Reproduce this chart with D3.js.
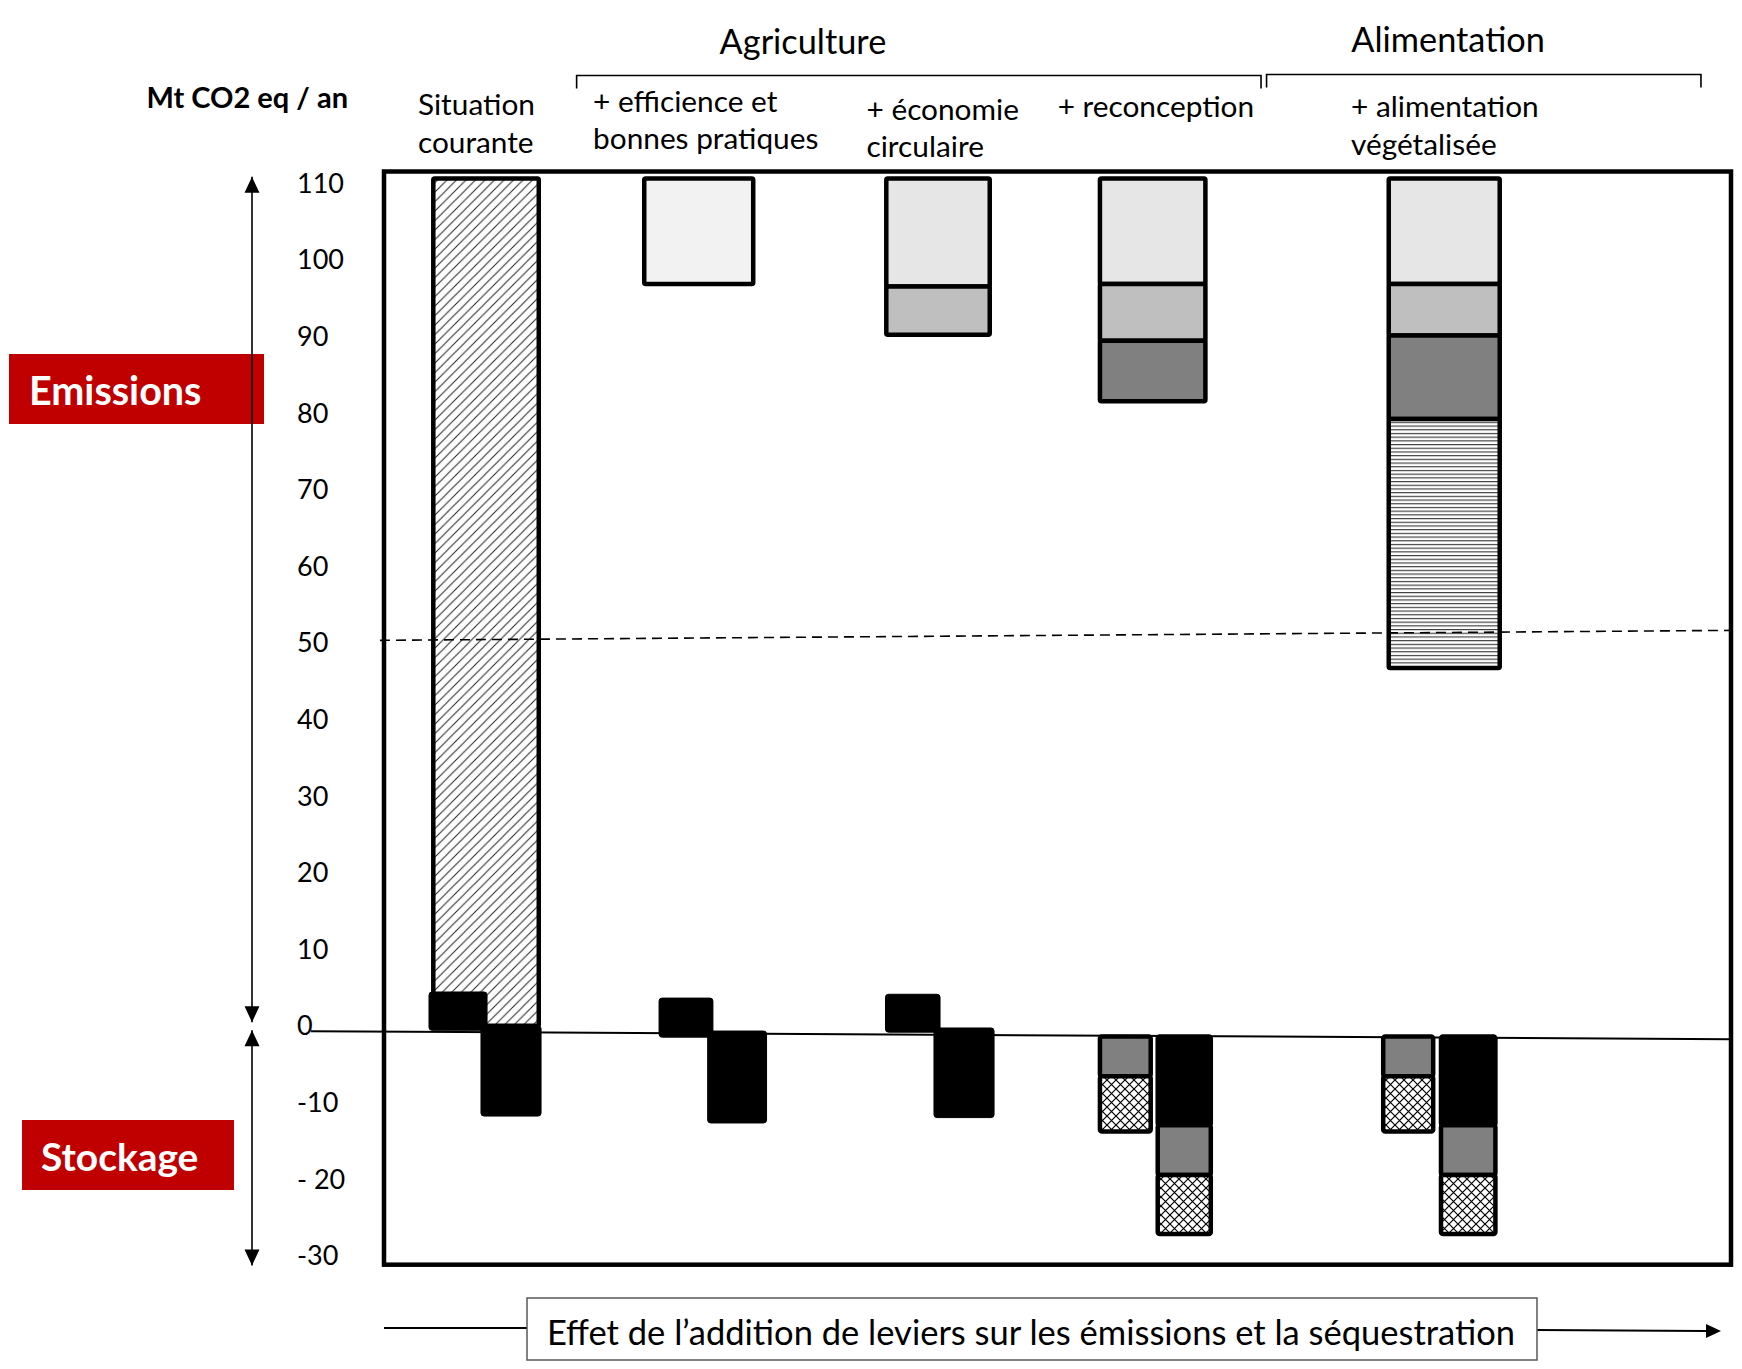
<!DOCTYPE html>
<html>
<head>
<meta charset="utf-8">
<script src="https://cdn.jsdelivr.net/npm/d3@7"></script>
<style>
body { margin: 0; background: #fff; }
svg { display: block; font-family: Lato, "Open Sans", sans-serif; }
</style>
</head>
<body>
<svg id="chart" width="1742" height="1369"></svg>
<script>
// --- données (Mt CO2 eq / an) ---
var columnLabels = [
	["Situation", "courante"],
	["+ efficience et", "bonnes pratiques"],
	["+ économie", "circulaire"],
	["+ reconception"],
	["+ alimentation", "végétalisée"]
];
var groupNames = ["Agriculture", "Alimentation"];

var emissionSeries = ["situation", "efficience", "circulaire", "reconception", "vegetal"];
// niveaux de haut en bas pour chaque colonne
var emissionLevels = [
	[110.6, 0],
	[110.6, 96.8],
	[110.6, 96.5, 90.2],
	[110.6, 96.8, 89.4, 81.5],
	[110.6, 96.8, 90.1, 79.2, 46.7]
];

var storageSeries = ["noir", "sols", "haies"];
var storageLeft = [[4.4, -0.6], [3.6, -1.5], [4.1, -0.85], [-1.4, -6.6, -13.8], [-1.4, -6.6, -13.8]];
var storageLeftKeys = [["noir"], ["noir"], ["noir"], ["sols", "haies"], ["sols", "haies"]];
var storageRight = [[0, -11.8], [-0.7, -12.7], [-0.3, -12.0], [-1.4, -13.0, -19.5, -27.2], [-1.4, -13.0, -19.5, -27.2]];
var storageRightKeys = [["noir"], ["noir"], ["noir"], ["noir", "sols", "haies"], ["noir", "sols", "haies"]];

var tickValues = [110, 100, 90, 80, 70, 60, 50, 40, 30, 20, 10, 0, -10, -20, -30];
var tickLabels = ["110", "100", "90", "80", "70", "60", "50", "40", "30", "20", "10", "0", "-10", "- 20", "-30"];

var zeroLine = [-0.72, -1.76];
var targetLine = [50.3, 51.6];

// --- mise en page (en % de la largeur du cadre) ---
var layout = [
	{emit: [3.66, 11.49], left: [3.34, 7.65], right: [7.20, 11.66], lx: 2.52, ly: 104.5},
	{emit: [19.32, 27.41], left: [20.42, 24.42], right: [24.03, 28.40], lx: 15.52, ly: 101},
	{emit: [37.29, 44.97], left: [37.23, 41.28], right: [40.83, 45.29], lx: 35.82, ly: 109},
	{emit: [53.15, 60.98], left: [53.15, 56.92], right: [57.44, 61.38], lx: 50.01, ly: 106.7},
	{emit: [74.59, 82.83], left: [74.18, 77.89], right: [78.47, 82.51], lx: 71.79, ly: 106.7}
];

var svg = d3.select("#chart");

var x = d3.scaleLinear().domain([0, 100]).range([384, 1731]);
var y = d3.scaleLinear().domain([-30, 110]).range([1255.5, 183]);

var fills = {
	efficience: "#e6e6e6",
	circulaire: "#bfbfbf",
	reconception: "#808080",
	situation: "url(#diag)",
	vegetal: "url(#horiz)",
	noir: "#000",
	sols: "#808080",
	haies: "url(#cross)"
};

// motifs
var defs = svg.append("defs");
var dp = defs.append("pattern").attr("id", "diag").attr("patternUnits", "userSpaceOnUse")
	.attr("width", 9.5).attr("height", 9.5);
dp.append("rect").attr("width", 9.5).attr("height", 9.5).attr("fill", "#fff");
dp.append("path").attr("d", "M-2,2 l4,-4 M0,9.5 l9.5,-9.5 M7.5,11.5 l4,-4")
	.attr("stroke", "#222").attr("stroke-width", 1);
var hp = defs.append("pattern").attr("id", "horiz").attr("patternUnits", "userSpaceOnUse")
	.attr("width", 8).attr("height", 3.7);
hp.append("rect").attr("width", 8).attr("height", 3.7).attr("fill", "#fff");
hp.append("line").attr("x1", 0).attr("x2", 8).attr("y1", 0.6).attr("y2", 0.6)
	.attr("stroke", "#333").attr("stroke-width", 1.1);
var cp = defs.append("pattern").attr("id", "cross").attr("patternUnits", "userSpaceOnUse")
	.attr("width", 9).attr("height", 9);
cp.append("rect").attr("width", 9).attr("height", 9).attr("fill", "#fff");
cp.append("path").attr("d", "M0,0 L9,9 M9,0 L0,9")
	.attr("stroke", "#000").attr("stroke-width", 1.2);

// cadre
svg.append("rect")
	.attr("x", x(0)).attr("y", y(111.5))
	.attr("width", x(100) - x(0)).attr("height", y(-31.2) - y(111.5))
	.attr("fill", "none").attr("stroke", "#000").attr("stroke-width", 4.5);

// ligne zéro
svg.append("line")
	.attr("x1", x(-5.42)).attr("x2", x(100))
	.attr("y1", y(zeroLine[0])).attr("y2", y(zeroLine[1]))
	.attr("stroke", "#000").attr("stroke-width", 2);

// segments d'émission
var segs = [];
emissionLevels.forEach(function(lv, c) {
	for (var i = 0; i < lv.length - 1; i++) {
		segs.push({col: c, key: c === 0 ? "situation" : emissionSeries[i + 1], top: lv[i], bottom: lv[i + 1]});
	}
});

svg.append("g").selectAll("rect")
	.data(segs)
	.enter().append("rect")
	.attr("x", d => x(layout[d.col].emit[0]))
	.attr("width", d => x(layout[d.col].emit[1]) - x(layout[d.col].emit[0]))
	.attr("y", d => y(d.top))
	.attr("height", d => y(d.bottom) - y(d.top))
	.attr("rx", 1.5)
	.attr("fill", d => (d.col === 1 ? "#f2f2f2" : fills[d.key]))
	.attr("stroke", "#000")
	.attr("stroke-width", 4.5);

// stockage
var store = [];
function addStore(levels, keys, side) {
	levels.forEach(function(lv, c) {
		for (var i = 0; i < lv.length - 1; i++) {
			store.push({col: c, side: side, key: keys[c][i], top: lv[i], bottom: lv[i + 1]});
		}
	});
}
addStore(storageLeft, storageLeftKeys, "left");
addStore(storageRight, storageRightKeys, "right");

svg.append("g").selectAll("rect")
	.data(store)
	.enter().append("rect")
	.attr("x", d => x(layout[d.col][d.side][0]))
	.attr("width", d => x(layout[d.col][d.side][1]) - x(layout[d.col][d.side][0]))
	.attr("y", d => y(d.top))
	.attr("height", d => y(d.bottom) - y(d.top))
	.attr("rx", d => (d.col < 3 ? 3 : 2))
	.attr("fill", d => fills[d.key])
	.attr("stroke", "#000")
	.attr("stroke-width", d => (d.col < 3 ? 1 : 4.5));

// ligne pointillée
svg.append("line")
	.attr("x1", x(-0.3)).attr("x2", x(100))
	.attr("y1", y(targetLine[0])).attr("y2", y(targetLine[1]))
	.attr("stroke", "#000").attr("stroke-width", 1.6)
	.attr("stroke-dasharray", "10,6");

// graduations
svg.append("g").selectAll("text")
	.data(tickValues)
	.enter().append("text")
	.attr("x", 297)
	.attr("y", d => y(d))
	.attr("dy", "0.36em")
	.style("font-size", "27px")
	.text((d, i) => tickLabels[i]);

svg.append("text")
	.attr("x", 348).attr("y", 98).attr("dy", "0.36em")
	.attr("text-anchor", "end")
	.style("font-size", "29px").style("font-weight", "bold")
	.text("Mt CO2 eq / an");

// en-têtes de colonnes
columnLabels.forEach(function(lines, c) {
	var t = svg.append("text")
		.attr("x", x(layout[c].lx))
		.attr("y", layout[c].ly)
		.style("font-size", "29.8px");
	lines.forEach(function(l, i) {
		t.append("tspan").attr("x", x(layout[c].lx)).attr("y", layout[c].ly + i * 37.5)
			.attr("dy", "0.36em").text(l);
	});
});

// accolades de groupes
var groups = [
	{name: groupNames[0], x0: 14.30, x1: 65.11, cx: 31.1, ty: 42, by: 75.5},
	{name: groupNames[1], x0: 65.52, x1: 97.77, cx: 79.0, ty: 40, by: 74.5}
];
groups.forEach(function(g) {
	svg.append("path")
		.attr("d", "M" + x(g.x0) + "," + (g.by + 13) + " L" + x(g.x0) + "," + g.by +
			" L" + x(g.x1) + "," + g.by + " L" + x(g.x1) + "," + (g.by + 13))
		.attr("fill", "none").attr("stroke", "#000").attr("stroke-width", 1.6);
	svg.append("text")
		.attr("x", x(g.cx)).attr("y", g.ty).attr("dy", "0.36em")
		.attr("text-anchor", "middle")
		.style("font-size", "34.3px")
		.text(g.name);
});

// étiquettes rouges
svg.append("rect").attr("x", 9).attr("y", 354).attr("width", 255).attr("height", 70).attr("fill", "#c00000");
svg.append("text").attr("x", 29).attr("y", 391).attr("dy", "0.36em")
	.attr("fill", "#fff").style("font-size", "39.5px").style("font-weight", "bold").text("Emissions");
svg.append("rect").attr("x", 22).attr("y", 1120).attr("width", 212).attr("height", 70).attr("fill", "#c00000");
svg.append("text").attr("x", 41).attr("y", 1157).attr("dy", "0.36em")
	.attr("fill", "#fff").style("font-size", "38.9px").style("font-weight", "bold").text("Stockage");

// flèches verticales
function vArrow(from, to) {
	var ya = y(from), yb = y(to);
	svg.append("line").attr("x1", 252).attr("x2", 252).attr("y1", ya).attr("y2", yb)
		.attr("stroke", "#000").attr("stroke-width", 1.6);
	[[ya, 1], [yb, -1]].forEach(function(p) {
		svg.append("path")
			.attr("d", "M252," + p[0] + " l-7.5," + (16 * p[1]) + " l15,0 z")
			.attr("fill", "#000");
	});
}
vArrow(110.8, 0.45);
vArrow(-0.6, -31.3);

// flèche du bas
svg.append("line").attr("x1", 384).attr("x2", 527).attr("y1", 1328).attr("y2", 1328)
	.attr("stroke", "#000").attr("stroke-width", 2);
svg.append("line").attr("x1", 1537).attr("x2", 1706).attr("y1", 1330).attr("y2", 1331)
	.attr("stroke", "#000").attr("stroke-width", 2);
svg.append("path").attr("d", "M1721,1331 l-15,-7 l0,14 z").attr("fill", "#000");
svg.append("rect").attr("x", 527).attr("y", 1298).attr("width", 1010).attr("height", 62)
	.attr("fill", "#fff").attr("stroke", "#595959").attr("stroke-width", 1.5);
svg.append("text").attr("x", 1031).attr("y", 1333).attr("dy", "0.36em")
	.attr("text-anchor", "middle")
	.style("font-size", "34.5px")
	.text("Effet de l’addition de leviers sur les émissions et la séquestration");
</script>
</body>
</html>
